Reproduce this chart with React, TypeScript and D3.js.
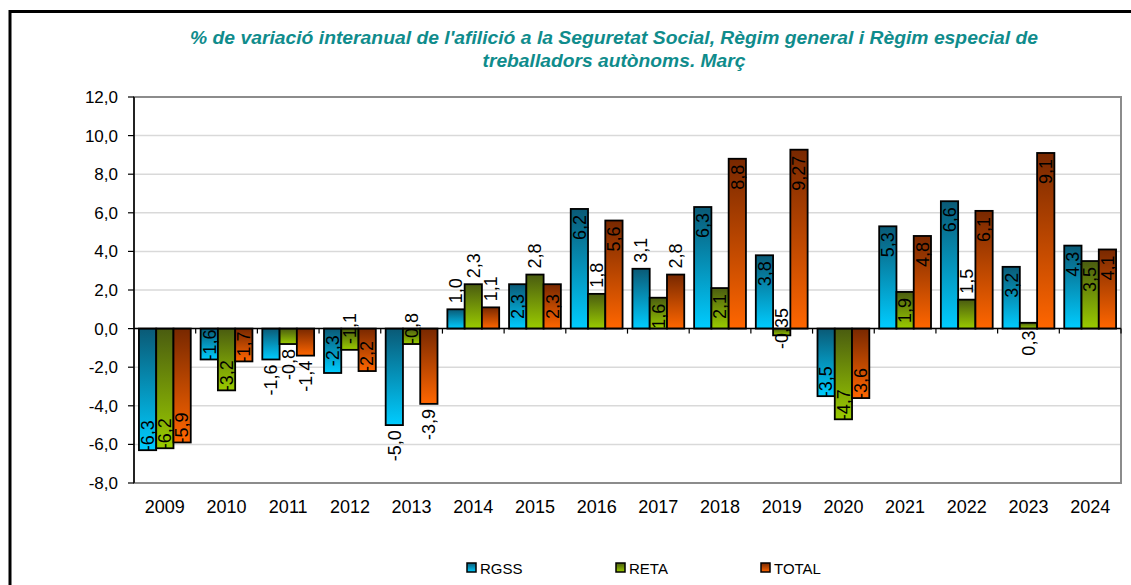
import React from "react";
import * as d3 from "d3";

// data
const years = ["2009", "2010", "2011", "2012", "2013", "2014", "2015", "2016", "2017", "2018", "2019", "2020", "2021", "2022", "2023", "2024"];
const rgss = [-6.3, -1.6, -1.6, -2.3, -5.0, 1.0, 2.3, 6.2, 3.1, 6.3, 3.8, -3.5, 5.3, 6.6, 3.2, 4.3];
const reta = [-6.2, -3.2, -0.8, -1.1, -0.8, 2.3, 2.8, 1.8, 1.6, 2.1, -0.35, -4.7, 1.9, 1.5, 0.3, 3.5];
const total = [-5.9, -1.7, -1.4, -2.2, -3.9, 1.1, 2.3, 5.6, 2.8, 8.8, 9.27, -3.6, 4.8, 6.1, 9.1, 4.1];
const yTicks = [-8, -6, -4, -2, 0, 2, 4, 6, 8, 10, 12];

// where each data label sits (in = inside end, out = outside end, mid = centre, zero = on the axis, over = other side of axis)
const rgssLabelPos = ["in", "in", "out", "mid", "out", "out", "mid", "in", "out", "in", "in", "in", "in", "in", "in", "in"];
const retaLabelPos = ["in", "in", "out", "zero", "zero", "out", "out", "out", "in", "in", "zero", "in", "in", "out", "over", "in"];
const totalLabelPos = ["in", "in", "out", "in", "out", "out", "mid", "in", "out", "in", "in", "in", "in", "in", "in", "in"];

const series = [
  { name: "RGSS", values: rgss, pos: rgssLabelPos, dark: "#0a5a76", light: "#00ccff" },
  { name: "RETA", values: reta, pos: retaLabelPos, dark: "#4a5c10", light: "#9acb00" },
  { name: "TOTAL", values: total, pos: totalLabelPos, dark: "#782800", light: "#ff6600" },
];

const W = 1131;
const H = 585;
const plot = { left: 134, right: 1121, top: 97, bottom: 483 };
const FONT = "'Liberation Sans', Arial, sans-serif";

const fmt = (v: number) => {
  const oneDec = Math.abs(v * 10 - Math.round(v * 10)) < 1e-6;
  return (oneDec ? v.toFixed(1) : v.toFixed(2)).replace(".", ",");
};

const App = () => {
  const x = d3
    .scaleBand()
    .domain(years)
    .range([plot.left, plot.right])
    .paddingInner(0.16)
    .paddingOuter(0.08);
  const xs = d3
    .scaleBand()
    .domain(series.map(s => s.name))
    .range([0, x.bandwidth()]);
  const y = d3.scaleLinear().domain([-8, 12]).range([plot.bottom, plot.top]);
  const y0 = y(0);
  const step = x.step();

  const labelFor = (v: number, mode: string, cx: number) => {
    const top = y(Math.max(v, 0));
    const bot = y(Math.min(v, 0));
    let ty = 0;
    let anchor = "middle";
    if (mode === "in") {
      if (v >= 0) {
        ty = top + 6;
        anchor = "end";
      } else {
        ty = bot + 1;
        anchor = "start";
      }
    } else if (mode === "out") {
      if (v >= 0) {
        ty = top - 6;
        anchor = "start";
      } else {
        ty = bot + 5;
        anchor = "end";
      }
    } else if (mode === "mid") {
      ty = (top + bot) / 2;
    } else if (mode === "zero") {
      ty = y0;
    } else if (mode === "over") {
      ty = y0 + 2;
      anchor = "end";
    }
    return (
      <text
        transform={`translate(${cx},${ty}) rotate(-90)`}
        dy="0.35em"
        textAnchor={anchor}
        fontSize={18}
        fill="#000"
      >
        {fmt(v)}
      </text>
    );
  };

  return (
    <svg
      width={W}
      height={H}
      style={{ position: "absolute", left: 0, top: 0, background: "#fff" }}
      fontFamily={FONT}
    >
      <defs>
        {series.map(s => (
          <linearGradient key={s.name} id={`g-${s.name}`} x1="0" y1="0" x2="0" y2="1">
            <stop offset="0" stopColor={s.dark} />
            <stop offset="1" stopColor={s.light} />
          </linearGradient>
        ))}
      </defs>

      {/* outer frame */}
      <path d={`M10,${H} V11.5 H${W}`} fill="none" stroke="#000" strokeWidth={3} />

      {/* title */}
      <text
        x={614}
        y={44}
        textAnchor="middle"
        fontSize={18}
        fontWeight="bold"
        fontStyle="italic"
        fill="#0f8c8c"
        textLength={848}
        lengthAdjust="spacingAndGlyphs"
      >
        % de variació interanual de l'afilició a la Seguretat Social, Règim general i Règim especial de
      </text>
      <text
        x={614}
        y={67}
        textAnchor="middle"
        fontSize={18}
        fontWeight="bold"
        fontStyle="italic"
        fill="#0f8c8c"
        textLength={263}
        lengthAdjust="spacingAndGlyphs"
      >
        treballadors autònoms. Març
      </text>

      {/* gridlines */}
      {yTicks.map(t => (
        <line key={t} x1={plot.left} x2={plot.right} y1={y(t)} y2={y(t)} stroke="#d9d9d9" strokeWidth={1.5} />
      ))}

      {/* plot border */}
      <rect
        x={plot.left}
        y={plot.top}
        width={plot.right - plot.left}
        height={plot.bottom - plot.top}
        fill="none"
        stroke="#8c8c8c"
        strokeWidth={2}
      />

      {/* y axis */}
      <line x1={plot.left} x2={plot.left} y1={plot.top} y2={plot.bottom} stroke="#000" strokeWidth={1.5} />
      {yTicks.map(t => (
        <g key={t}>
          <line x1={plot.left - 6} x2={plot.left} y1={y(t)} y2={y(t)} stroke="#000" strokeWidth={1.2} />
          <text x={118} y={y(t)} dy="0.35em" textAnchor="end" fontSize={17} fill="#000">
            {fmt(t)}
          </text>
        </g>
      ))}

      {/* bars */}
      {series.map(s =>
        s.values.map((v, i) => {
          const bx = (x(years[i]) as number) + (xs(s.name) as number);
          return (
            <rect
              key={`${s.name}-${i}`}
              x={bx}
              y={y(Math.max(v, 0))}
              width={xs.bandwidth()}
              height={Math.abs(y(v) - y0)}
              fill={`url(#g-${s.name})`}
              stroke="#000"
              strokeWidth={1.8}
            />
          );
        })
      )}

      {/* category axis at zero */}
      <line x1={plot.left} x2={plot.right} y1={y0} y2={y0} stroke="#000" strokeWidth={1.5} />
      {years.map((yr, i) => (
        <line
          key={yr}
          x1={plot.left + step * (i + 1)}
          x2={plot.left + step * (i + 1)}
          y1={y0}
          y2={y0 + 5}
          stroke="#000"
          strokeWidth={1.2}
        />
      ))}

      {/* data labels */}
      {series.map(s =>
        s.values.map((v, i) => {
          const cx = (x(years[i]) as number) + (xs(s.name) as number) + xs.bandwidth() / 2;
          return <g key={`l-${s.name}-${i}`}>{labelFor(v, s.pos[i], cx)}</g>;
        })
      )}

      {/* x labels */}
      {years.map(yr => (
        <text
          key={yr}
          x={(x(yr) as number) + x.bandwidth() / 2}
          y={513}
          textAnchor="middle"
          fontSize={18}
          fill="#000"
        >
          {yr}
        </text>
      ))}

      {/* legend */}
      {series.map((s, i) => {
        const lx = [467, 616, 761][i];
        return (
          <g key={s.name}>
            <rect x={lx} y={563} width={9} height={9} fill={`url(#g-${s.name})`} stroke="#000" strokeWidth={1.5} />
            <text x={lx + 13} y={574} fontSize={15} fill="#000">
              {s.name}
            </text>
          </g>
        );
      })}
    </svg>
  );
};

export default App;
